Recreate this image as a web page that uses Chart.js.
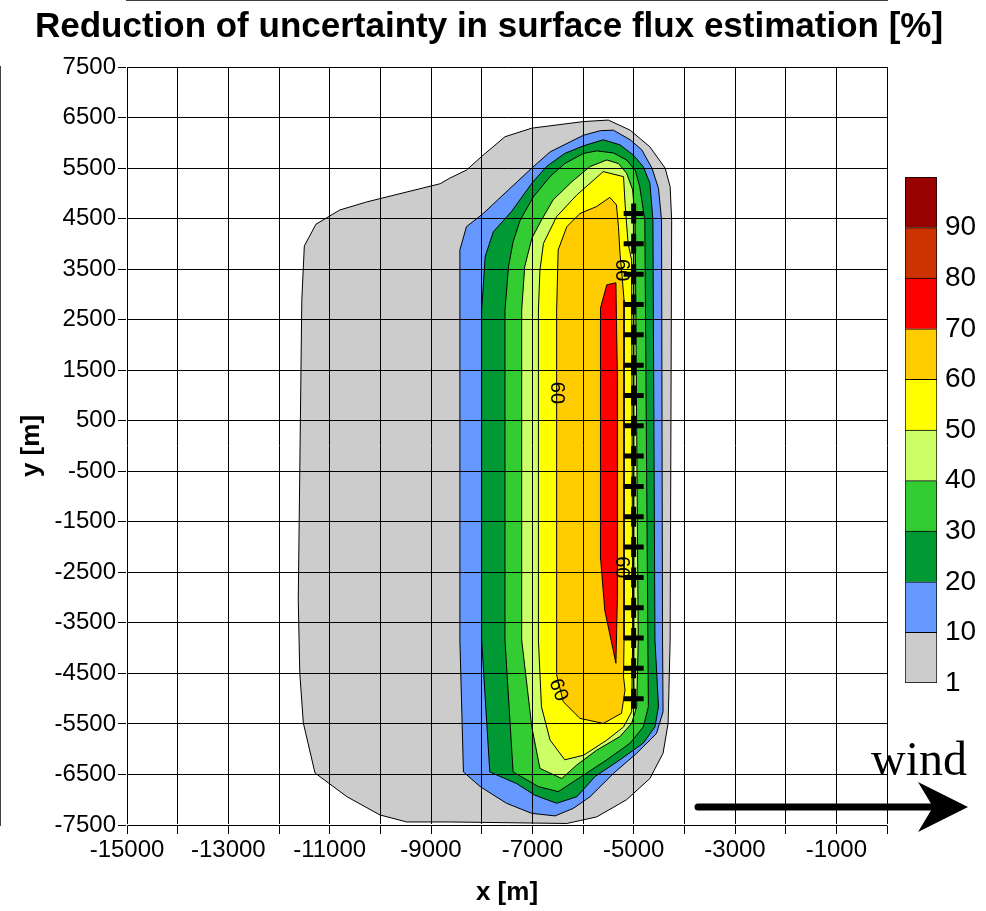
<!DOCTYPE html>
<html>
<head>
<meta charset="utf-8">
<script src="https://cdn.jsdelivr.net/npm/chart.js@4.4.1/dist/chart.umd.min.js"></script>
<style>
  body { margin: 0; background: #fff; }
  #wrap { position: relative; width: 986px; height: 911px; }
  #main { position: absolute; left: 0; top: 0; }
  #bar { position: absolute; left: 895px; top: 150px; z-index: 2; }
</style>
</head>
<body>
<div id="wrap">
  <canvas id="main" width="986" height="911"></canvas>
  <canvas id="bar" width="91" height="560"></canvas>
</div>
<script>
// axis ticks
const xGrid = [-15000, -14000, -13000, -12000, -11000, -10000, -9000, -8000, -7000, -6000, -5000, -4000, -3000, -2000, -1000, 0];
const xLabels = [-15000, -13000, -11000, -9000, -7000, -5000, -3000, -1000];
const yGrid = [7500, 6500, 5500, 4500, 3500, 2500, 1500, 500, -500, -1500, -2500, -3500, -4500, -5500, -6500, -7500];

// contour levels and colours (colour bar)
const levels = ['1', '10', '20', '30', '40', '50', '60', '70', '80', '90'];
const levelColors = ['#CCCCCC', '#6699FF', '#009933', '#33CC33', '#CCFF66', '#FFFF00', '#FFCC00', '#FF0000', '#CC3300', '#990000'];

// filled contour outlines, [x, y] in metres
const c1 = [[-11550, 2890], [-11500, 3960], [-11270, 4390], [-10800, 4670], [-10270, 4830], [-8820, 5190], [-8630, 5300], [-8300, 5460], [-8000, 5730], [-7540, 6120], [-7010, 6290], [-5990, 6420], [-5500, 6450], [-5070, 6250], [-4680, 5920], [-4380, 5500], [-4280, 5130], [-4250, 4470], [-4280, -3840], [-4320, -5490], [-4420, -6080], [-4680, -6580], [-5140, -7000], [-5730, -7340], [-6320, -7470], [-8630, -7440], [-9480, -7440], [-10010, -7300], [-10660, -6940], [-11290, -6470], [-11520, -5480], [-11590, -4490], [-11620, -3050]];
const c10 = [[-8430, 2690], [-8430, 3880], [-8300, 4340], [-7970, 4600], [-7470, 5070], [-7010, 5500], [-6650, 5820], [-5990, 6150], [-5660, 6240], [-5400, 6250], [-5070, 6060], [-4840, 5860], [-4640, 5500], [-4510, 5100], [-4450, 4470], [-4430, -3840], [-4420, -5260], [-4550, -5690], [-4940, -6080], [-5400, -6480], [-5860, -6940], [-6190, -7170], [-6550, -7320], [-7010, -7270], [-7510, -7070], [-8030, -6740], [-8360, -6450], [-8430, -3840]];
const c20 = [[-8000, 2690], [-7930, 3750], [-7770, 4240], [-7410, 4640], [-7010, 5200], [-6720, 5530], [-6360, 5790], [-5990, 5940], [-5600, 6060], [-5270, 5960], [-5010, 5760], [-4810, 5530], [-4680, 5200], [-4620, 4470], [-4580, -3840], [-4510, -5160], [-4580, -5560], [-4810, -5880], [-5270, -6210], [-5760, -6540], [-6120, -6940], [-6520, -7070], [-6950, -6910], [-7310, -6680], [-7840, -6450], [-8000, -3840]];
const c30 = [[-7540, 2690], [-7470, 3550], [-7380, 4040], [-7240, 4470], [-6980, 4930], [-6650, 5330], [-6360, 5590], [-5990, 5790], [-5730, 5840], [-5400, 5800], [-5140, 5660], [-4970, 5460], [-4880, 5130], [-4780, 4470], [-4720, -3840], [-4710, -5160], [-4810, -5560], [-5070, -5880], [-5530, -6210], [-6030, -6540], [-6490, -6840], [-6880, -6740], [-7380, -6450], [-7540, -3840]];
const c40 = [[-7210, 2690], [-7150, 3550], [-7010, 4110], [-6820, 4470], [-6590, 4870], [-6220, 5230], [-5860, 5530], [-5530, 5660], [-5300, 5590], [-5140, 5400], [-5020, 5070], [-4970, 4470], [-4910, -3840], [-4940, -5160], [-5040, -5490], [-5270, -5750], [-5730, -6020], [-6120, -6310], [-6420, -6580], [-6850, -6380], [-7010, -5560], [-7210, -3840]];
const c50 = [[-6880, 2690], [-6850, 3480], [-6780, 4010], [-6520, 4540], [-6120, 4970], [-5600, 5430], [-5200, 5330], [-5170, 4800], [-5110, 4010], [-5040, 3680], [-5020, -3840], [-5040, -5260], [-5200, -5560], [-5530, -5820], [-5990, -6120], [-6360, -6210], [-6650, -5820], [-6820, -5160], [-6880, -3840]];
const c60 = [[-6520, 2690], [-6490, 3880], [-6320, 4340], [-6060, 4600], [-5730, 4740], [-5470, 4920], [-5340, 4770], [-5300, 4340], [-5270, 3810], [-5230, 3380], [-5190, 2890], [-5190, -3840], [-5200, -4570], [-5170, -4830], [-5240, -5290], [-5600, -5490], [-6060, -5390], [-6390, -5060], [-6520, -4530], [-6520, -3840]];
const c70 = [[-5530, 3190], [-5350, 3230], [-5340, 2490], [-5320, 1310], [-5320, -2920], [-5350, -4300], [-5570, -3250], [-5650, -2260], [-5650, 2300], [-5660, 2730]];
const contours = [c1, c10, c20, c30, c40, c50, c60, c70];

// measurement sites along x = -5000
const siteX = -5000;
const siteY = [4600, 4000, 3400, 2800, 2200, 1600, 1000, 400, -200, -800, -1400, -2000, -2600, -3200, -3800, -4400, -5000];

// contour labels
const labelPos = [[-5240, 3480, 90], [-6530, 1050, 90], [-5230, -2400, 90], [-6490, -4830, 68]];

const FONT = "'Liberation Sans', Arial, sans-serif";

const contourSets = contours.map((poly, i) => {
  const pts = poly.map(p => ({ x: p[0], y: p[1] }));
  pts.push({ x: poly[0][0], y: poly[0][1] });
  return {
    data: pts,
    borderColor: '#000',
    borderWidth: 1,
    backgroundColor: levelColors[i],
    fill: 'shape',
    pointRadius: 0,
    tension: 0
  };
});

const siteSet = {
  data: siteY.map(y => ({ x: siteX, y: y })),
  borderColor: '#000',
  borderWidth: 1.5,
  pointStyle: 'cross',
  pointRadius: 10,
  pointBorderWidth: 5,
  pointBorderColor: '#000',
  fill: false
};

const extras = {
  id: 'extras',
  afterDatasetsDraw(chart) {
    const { ctx, scales } = chart;
    ctx.save();
    ctx.fillStyle = '#000';
    ctx.font = '20px ' + FONT;
    ctx.textAlign = 'center';
    ctx.textBaseline = 'middle';
    labelPos.forEach(l => {
      ctx.save();
      ctx.translate(scales.x.getPixelForValue(l[0]), scales.y.getPixelForValue(l[1]));
      ctx.rotate(l[2] * Math.PI / 180);
      ctx.fillText('60', 0, 0);
      ctx.restore();
    });
    ctx.restore();
  },
  afterDraw(chart) {
    const ctx = chart.ctx;
    ctx.save();
    ctx.strokeStyle = '#000';
    ctx.lineWidth = 7;
    ctx.lineCap = 'round';
    ctx.beginPath();
    ctx.moveTo(698, 807);
    ctx.lineTo(935, 807);
    ctx.stroke();
    ctx.fillStyle = '#000';
    ctx.beginPath();
    ctx.moveTo(968, 807);
    ctx.lineTo(918, 782);
    ctx.lineTo(933, 807);
    ctx.lineTo(918, 832);
    ctx.closePath();
    ctx.fill();
    ctx.font = "48px 'Liberation Serif', 'Times New Roman', serif";
    ctx.textAlign = 'left';
    ctx.textBaseline = 'alphabetic';
    ctx.fillText('wind', 871, 775);
    ctx.restore();
  }
};

// first dataset is drawn last, so the sites go first and the widest contour last
new Chart(document.getElementById('main'), {
  type: 'line',
  data: { datasets: [siteSet, ...contourSets.slice().reverse()] },
  plugins: [extras],
  options: {
    responsive: false,
    animation: false,
    devicePixelRatio: 1,
    layout: { padding: { top: 0, left: 0, right: 8, bottom: 0 } },
    plugins: {
      legend: { display: false },
      tooltip: { enabled: false },
      title: {
        display: true,
        text: 'Reduction of uncertainty in surface flux estimation [%]',
        color: '#000',
        font: { family: FONT, size: 35, weight: 'bold' },
        padding: { top: 6, bottom: 19 }
      }
    },
    scales: {
      x: {
        type: 'linear',
        min: -15000,
        max: 0,
        afterBuildTicks: s => { s.ticks = xGrid.map(v => ({ value: v })); },
        afterFit: s => { s.height = 86; },
        grid: { color: '#000', lineWidth: 1, tickLength: 9, z: 1 },
        border: { color: '#000', width: 1.5 },
        ticks: {
          autoSkip: false,
          maxRotation: 0,
          padding: 2,
          color: '#000',
          font: { family: FONT, size: 24 },
          callback: v => xLabels.includes(v) ? String(v) : ''
        },
        title: {
          display: true,
          text: 'x [m]',
          color: '#000',
          font: { family: FONT, size: 26, weight: 'bold' },
          padding: { top: 0, bottom: 3 }
        }
      },
      y: {
        type: 'linear',
        min: -7500,
        max: 7500,
        afterBuildTicks: s => { s.ticks = yGrid.map(v => ({ value: v })); },
        afterFit: s => { s.width = 127; },
        grid: { color: '#000', lineWidth: 1, tickLength: 9, z: 1 },
        border: { color: '#000', width: 1.5 },
        ticks: {
          autoSkip: false,
          padding: 2,
          color: '#000',
          font: { family: FONT, size: 24 },
          callback: v => String(v)
        },
        title: {
          display: true,
          text: 'y [m]',
          color: '#000',
          font: { family: FONT, size: 26, weight: 'bold' },
          padding: { top: 16, bottom: 0 }
        }
      },
      yr: {
        type: 'linear',
        position: 'right',
        display: true,
        grid: { display: false },
        border: { display: false },
        ticks: { display: false },
        afterFit: s => { s.width = 91; }
      }
    }
  }
});

// colour bar
new Chart(document.getElementById('bar'), {
  type: 'bar',
  data: {
    labels: [''],
    datasets: levelColors.map((c, i) => ({
      data: [1],
      backgroundColor: c,
      borderColor: '#000',
      borderWidth: 1,
      borderSkipped: i === 0 ? false : 'start',
      categoryPercentage: 1,
      barPercentage: 1
    }))
  },
  options: {
    responsive: false,
    animation: false,
    devicePixelRatio: 1,
    layout: { padding: { left: 10, top: 27, bottom: 27, right: 0 } },
    plugins: { legend: { display: false }, tooltip: { enabled: false } },
    scales: {
      x: { stacked: true, display: false },
      y: {
        stacked: true,
        position: 'right',
        min: 0,
        max: 10,
        afterBuildTicks: s => { s.ticks = levels.map((l, i) => ({ value: i })); },
        afterFit: s => { s.width = 49; },
        grid: { display: false, drawTicks: false },
        border: { display: false },
        ticks: {
          padding: 8,
          color: '#000',
          font: { family: FONT, size: 28 },
          callback: v => levels[v]
        }
      }
    }
  }
});
</script>
</body>
</html>
